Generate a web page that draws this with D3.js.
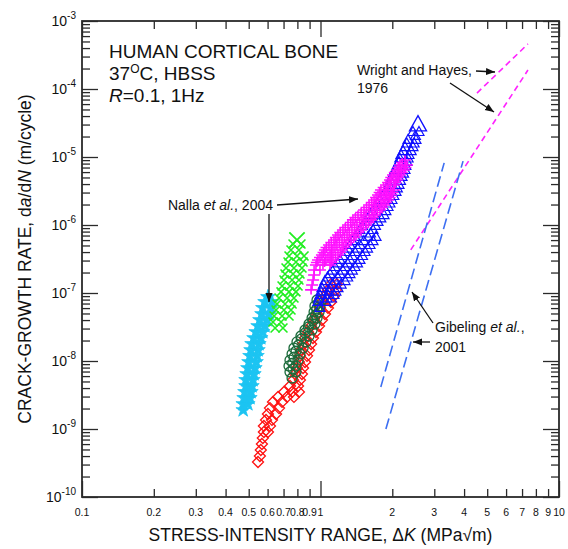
<!DOCTYPE html>
<html><head><meta charset="utf-8">
<script src="https://cdn.jsdelivr.net/npm/d3@7/dist/d3.min.js"></script>
<style>
body{margin:0;background:#fff;}
text{font-family:"Liberation Sans",Arial,Helvetica,sans-serif;fill:#111;}
</style></head><body>
<svg id="chart" width="568" height="549"></svg>
<script>
// ---------- axis data ----------
const xTickValues = [0.1,0.2,0.3,0.4,0.5,0.6,0.7,0.8,0.9,1,2,3,4,5,6,7,8,9,10];
const xTickLabels = ["0.1","0.2","0.3","0.4","0.5","0.6","0.7","0.8","0.9","1","2","3","4","5","6","7","8","9","10"];
const xMajorTicks = [0.1,1,10];
const yDecades = [1e-10,1e-9,1e-8,1e-7,1e-6,1e-5,1e-4,1e-3];
const yDecadeExponents = ["-10","-9","-8","-7","-6","-5","-4","-3"];

// ---------- series data: [ΔK (MPa√m), da/dN (m/cycle)] ----------
const cyanStars = [[0.474,1.90e-9],[0.474,2.33e-9],[0.496,2.33e-9],[0.478,2.86e-9],[0.506,2.86e-9],[0.482,3.51e-9],[0.511,3.51e-9],[0.487,4.29e-9],[0.516,4.29e-9],[0.487,5.26e-9],[0.521,5.26e-9],[0.492,6.44e-9],[0.526,6.44e-9],[0.496,7.89e-9],[0.531,7.89e-9],[0.501,9.67e-9],[0.537,9.67e-9],[0.506,1.19e-8],[0.542,1.19e-8],[0.511,1.45e-8],[0.547,1.45e-8],[0.516,1.78e-8],[0.552,1.78e-8],[0.526,2.18e-8],[0.562,2.18e-8],[0.537,2.67e-8],[0.573,2.67e-8],[0.547,3.27e-8],[0.585,3.27e-8],[0.557,4.01e-8],[0.597,4.01e-8],[0.568,4.91e-8],[0.608,4.91e-8],[0.573,6.03e-8],[0.620,6.03e-8],[0.585,7.38e-8],[0.626,7.38e-8],[0.602,8.74e-8]];
const greenCrosses = [[0.645,3.06e-8],[0.696,3.06e-8],[0.632,3.75e-8],[0.683,3.75e-8],[0.639,4.59e-8],[0.690,4.59e-8],[0.738,4.59e-8],[0.651,5.62e-8],[0.703,5.62e-8],[0.752,5.62e-8],[0.657,6.89e-8],[0.710,6.89e-8],[0.760,6.89e-8],[0.670,8.45e-8],[0.724,8.45e-8],[0.774,8.45e-8],[0.683,1.04e-7],[0.738,1.04e-7],[0.789,1.04e-7],[0.690,1.27e-7],[0.745,1.27e-7],[0.805,1.27e-7],[0.703,1.55e-7],[0.760,1.55e-7],[0.812,1.55e-7],[0.710,1.90e-7],[0.767,1.90e-7],[0.820,1.90e-7],[0.717,2.33e-7],[0.774,2.33e-7],[0.836,2.33e-7],[0.731,2.86e-7],[0.789,2.86e-7],[0.845,2.86e-7],[0.738,3.50e-7],[0.797,3.50e-7],[0.853,3.50e-7],[0.752,4.29e-7],[0.812,4.29e-7],[0.767,5.26e-7],[0.828,5.26e-7],[0.797,6.02e-7]];
const redDiamonds = [[0.547,3.27e-10],[0.557,4.01e-10],[0.562,4.91e-10],[0.568,6.02e-10],[0.573,7.38e-10],[0.579,9.04e-10],[0.602,9.04e-10],[0.579,1.11e-9],[0.614,1.11e-9],[0.591,1.36e-9],[0.626,1.36e-9],[0.602,1.66e-9],[0.651,1.66e-9],[0.614,2.03e-9],[0.670,2.03e-9],[0.632,2.50e-9],[0.690,2.50e-9],[0.664,2.96e-9],[0.724,2.96e-9],[0.774,2.96e-9],[0.703,3.51e-9],[0.760,3.51e-9],[0.812,3.51e-9],[0.745,4.29e-9],[0.805,4.29e-9],[0.767,5.26e-9],[0.820,5.26e-9],[0.782,6.44e-9],[0.836,6.44e-9],[0.797,7.89e-9],[0.845,7.89e-9],[0.812,9.67e-9],[0.861,9.67e-9],[0.820,1.19e-8],[0.878,1.19e-8],[0.828,1.45e-8],[0.895,1.45e-8],[0.845,1.78e-8],[0.913,1.78e-8],[0.861,2.18e-8],[0.930,2.18e-8],[0.886,2.67e-8],[0.957,2.67e-8],[0.913,3.27e-8],[0.986,3.27e-8],[0.940,4.01e-8],[1.014,4.01e-8],[0.967,4.91e-8],[1.044,4.91e-8],[0.995,6.03e-8],[1.075,6.03e-8],[1.014,7.38e-8],[1.107,7.38e-8],[1.044,9.04e-8],[1.139,9.04e-8],[1.075,1.11e-7],[1.161,1.11e-7],[1.107,1.35e-7],[1.172,1.35e-7]];
const darkGreenCircles = [[0.760,5.62e-9],[0.745,6.90e-9],[0.789,6.90e-9],[0.738,8.44e-9],[0.789,8.44e-9],[0.745,1.03e-8],[0.805,1.03e-8],[0.760,1.27e-8],[0.820,1.27e-8],[0.774,1.55e-8],[0.845,1.55e-8],[0.797,1.91e-8],[0.869,1.91e-8],[0.828,2.33e-8],[0.895,2.33e-8],[0.861,2.86e-8],[0.922,2.86e-8],[0.895,3.50e-8],[0.948,3.50e-8],[0.922,4.29e-8],[0.967,4.29e-8],[0.940,5.26e-8],[0.986,5.26e-8],[0.948,6.45e-8],[0.995,6.45e-8],[0.967,7.89e-8],[1.014,7.89e-8],
  [0.767,7.6e-9],[0.765,9.3e-9],[0.775,1.14e-8],[0.790,1.40e-8],[0.810,1.72e-8],[0.830,2.10e-8],[0.862,2.58e-8],[0.890,3.16e-8],[0.930,3.90e-8],[0.955,4.75e-8],[0.965,5.80e-8],[0.980,7.10e-8]];
const blueTriangles = [[0.995,6.03e-8],[0.976,7.38e-8],[1.054,7.38e-8],[0.995,9.35e-8],[1.075,9.35e-8],[1.139,9.35e-8],[1.014,1.18e-7],[1.096,1.18e-7],[1.184,1.18e-7],[1.044,1.50e-7],[1.150,1.50e-7],[1.267,1.50e-7],[1.096,1.90e-7],[1.207,1.90e-7],[1.329,1.90e-7],[1.150,2.41e-7],[1.267,2.41e-7],[1.395,2.41e-7],[1.207,3.06e-7],[1.329,3.06e-7],[1.464,3.06e-7],[1.267,4.01e-7],[1.395,4.01e-7],[1.537,4.01e-7],[1.329,5.08e-7],[1.464,5.08e-7],[1.613,5.08e-7],[1.395,6.67e-7],[1.582,6.67e-7],[1.709,6.67e-7],[1.464,8.44e-7],[1.660,8.44e-7],[1.537,1.11e-6],[1.742,1.11e-6],[1.613,1.40e-6],[1.846,1.40e-6],[1.692,1.84e-6],[1.919,1.84e-6],[1.776,2.33e-6],[1.994,2.33e-6],[1.864,3.06e-6],[2.073,3.06e-6],[1.937,3.88e-6],[2.134,3.88e-6],[1.994,5.09e-6],[2.197,5.09e-6],[2.053,6.44e-6],[2.261,6.44e-6],[2.134,8.45e-6],[2.305,8.45e-6],[2.175,1.07e-5],[2.350,1.07e-5],[2.261,1.40e-5],[2.442,1.40e-5],[2.328,1.78e-5],[2.514,1.78e-5],[2.442,2.33e-5],[2.588,2.33e-5],
  [2.50,2.04e-5],[2.30,1.58e-5],[2.47,1.58e-5],[2.22,1.22e-5],[2.40,1.22e-5],[2.15,9.5e-6],[2.33,9.5e-6],[2.09,7.4e-6],[2.28,7.4e-6],[2.02,5.7e-6],[2.23,5.7e-6],[1.965,4.45e-6],[2.165,4.45e-6],[1.90,3.45e-6],[2.10,3.45e-6],[1.82,2.67e-6],[2.03,2.67e-6],[1.73,2.07e-6],[1.955,2.07e-6],[1.65,1.6e-6],[1.88,1.6e-6],[1.575,1.25e-6],[1.79,1.25e-6],[1.50,9.7e-7],[1.70,9.7e-7],[1.43,7.5e-7],[1.62,7.5e-7],[1.36,5.8e-7],[1.52,5.8e-7],[1.66,5.8e-7],[1.30,4.5e-7],[1.43,4.5e-7],[1.575,4.5e-7],[1.24,3.5e-7],[1.36,3.5e-7],[1.50,3.5e-7],[1.18,2.72e-7],[1.30,2.72e-7],[1.43,2.72e-7],[1.12,2.14e-7],[1.24,2.14e-7],[1.36,2.14e-7],[1.07,1.69e-7],[1.18,1.69e-7],[1.30,1.69e-7],[1.03,1.33e-7],[1.12,1.33e-7],[1.22,1.33e-7],[1.005,1.05e-7],[1.085,1.05e-7],[1.16,1.05e-7],[0.985,8.3e-8],[1.065,8.3e-8],[1.11,8.3e-8],
  [2.563,2.96e-5]];
const magentaPluses = [[0.913,1.11e-7],[0.922,1.31e-7],[0.931,1.55e-7],[0.940,1.84e-7],[0.940,2.18e-7],[0.995,2.18e-7],[0.957,2.58e-7],[1.024,2.58e-7],[1.096,2.58e-7],[0.976,3.06e-7],[1.054,3.06e-7],[1.128,3.06e-7],[1.014,3.62e-7],[1.096,3.62e-7],[1.184,3.62e-7],[1.044,4.29e-7],[1.128,4.29e-7],[1.231,4.29e-7],[1.085,5.08e-7],[1.172,5.08e-7],[1.279,5.08e-7],[1.139,6.02e-7],[1.231,6.02e-7],[1.342,6.02e-7],[1.184,7.13e-7],[1.292,7.13e-7],[1.409,7.13e-7],[1.242,8.44e-7],[1.355,8.44e-7],[1.478,8.44e-7],[1.304,1.0e-6],[1.422,1.0e-6],[1.552,1.0e-6],[1.368,1.19e-6],[1.493,1.19e-6],[1.629,1.19e-6],[1.436,1.40e-6],[1.552,1.40e-6],[1.692,1.40e-6],[1.522,1.66e-6],[1.644,1.66e-6],[1.776,1.66e-6],[1.598,1.97e-6],[1.709,1.97e-6],[1.846,1.97e-6],[1.677,2.33e-6],[1.793,2.33e-6],[1.919,2.33e-6],[1.742,2.76e-6],[1.864,2.76e-6],[1.975,2.76e-6],[1.793,3.27e-6],[1.919,3.27e-6],[2.033,3.27e-6],[1.882,3.88e-6],[2.033,3.88e-6],[1.956,4.59e-6],[2.093,4.59e-6],[2.014,5.44e-6],[2.154,5.44e-6],[2.093,6.44e-6],[2.239,6.44e-6],[2.154,7.62e-6],[2.305,7.62e-6],[2.261,9.04e-6],
  [2.20,8.3e-6],[2.12,7.0e-6],[2.27,7.0e-6],[2.05,5.92e-6],[2.19,5.92e-6],[1.98,5.0e-6],[2.12,5.0e-6],[1.92,4.22e-6],[2.06,4.22e-6],[1.84,3.56e-6],[1.97,3.56e-6],[1.77,3.0e-6],[1.89,3.0e-6],[2.00,3.0e-6],[1.71,2.54e-6],[1.83,2.54e-6],[1.95,2.54e-6],[1.64,2.14e-6],[1.75,2.14e-6],[1.88,2.14e-6],[1.56,1.81e-6],[1.68,1.81e-6],[1.81,1.81e-6],[1.48,1.53e-6],[1.60,1.53e-6],[1.73,1.53e-6],[1.40,1.29e-6],[1.52,1.29e-6],[1.66,1.29e-6],[1.34,1.09e-6],[1.46,1.09e-6],[1.59,1.09e-6],[1.27,9.2e-7],[1.39,9.2e-7],[1.51,9.2e-7],[1.21,7.76e-7],[1.32,7.76e-7],[1.44,7.76e-7],[1.16,6.55e-7],[1.26,6.55e-7],[1.38,6.55e-7],[1.11,5.53e-7],[1.20,5.53e-7],[1.31,5.53e-7],[1.06,4.67e-7],[1.15,4.67e-7],[1.25,4.67e-7],[1.03,3.94e-7],[1.11,3.94e-7],[1.21,3.94e-7],[0.995,3.33e-7],[1.075,3.33e-7],[1.155,3.33e-7],[0.966,2.81e-7],[1.04,2.81e-7],[1.11,2.81e-7]];

// literature fits (dashed lines): [ΔK, da/dN] end points
const wrightHayesUpper = [[4.53,8.7e-5],[7.41,4.6e-4]];
const wrightHayesLower = [[2.39,4.3e-7],[7.41,1.9e-4]];
const gibelingLeft = [[1.79,4.15e-9],[3.30,8.2e-6]];
const gibelingRight = [[1.88,1.0e-9],[3.96,8.7e-6]];

// ---------- chart ----------
const svg = d3.select("#chart");
const L = 82, R = 559, T = 21, B = 497;
const x = d3.scaleLog().domain([0.1,10]).range([L,R]);
const y = d3.scaleLog().domain([1e-10,1e-3]).range([B,T]);

const yMinor = [];
yDecades.slice(0,-1).forEach(d => { for (let k=2;k<=9;k++) yMinor.push(d*k); });
const xMinor = xTickValues.filter(v => !xMajorTicks.includes(v));

const axisColor = "#2a2a2a";
function styleAxis(g){ g.select(".domain").remove(); g.selectAll("line").attr("stroke",axisColor).attr("stroke-width",1.3); }

svg.append("g").attr("transform",`translate(0,${B})`)
  .call(d3.axisBottom(x).tickValues(xMinor).tickSize(-8).tickFormat("")).call(styleAxis);
svg.append("g").attr("transform",`translate(0,${B})`)
  .call(d3.axisBottom(x).tickValues(xMajorTicks).tickSize(-16).tickFormat("")).call(styleAxis);
svg.append("g").attr("transform",`translate(0,${T})`)
  .call(d3.axisTop(x).tickValues(xMinor).tickSize(-8).tickFormat("")).call(styleAxis);
svg.append("g").attr("transform",`translate(0,${T})`)
  .call(d3.axisTop(x).tickValues(xMajorTicks).tickSize(-16).tickFormat("")).call(styleAxis);
svg.append("g").attr("transform",`translate(${L},0)`)
  .call(d3.axisLeft(y).tickValues(yMinor).tickSize(-8).tickFormat("")).call(styleAxis);
svg.append("g").attr("transform",`translate(${L},0)`)
  .call(d3.axisLeft(y).tickValues(yDecades).tickSize(-16).tickFormat("")).call(styleAxis);
svg.append("g").attr("transform",`translate(${R},0)`)
  .call(d3.axisRight(y).tickValues(yMinor).tickSize(-8).tickFormat("")).call(styleAxis);
svg.append("g").attr("transform",`translate(${R},0)`)
  .call(d3.axisRight(y).tickValues(yDecades).tickSize(-16).tickFormat("")).call(styleAxis);

svg.append("rect").attr("x",L).attr("y",T).attr("width",R-L).attr("height",B-T)
  .attr("fill","none").attr("stroke",axisColor).attr("stroke-width",1.8);

// x tick labels
svg.append("g").selectAll("text").data(xTickValues).join("text")
  .attr("x",d=>x(d)).attr("y",B+19).attr("text-anchor","middle")
  .attr("font-size",10.5).text((d,i)=>xTickLabels[i]);

// y tick labels
const yl = svg.append("g").selectAll("text").data(yDecades).join("text")
  .attr("x",L-6).attr("y",d=>y(d)+5).attr("text-anchor","end").attr("font-size",14);
yl.append("tspan").text("10");
yl.append("tspan").attr("font-size",10).attr("dy",-7).text((d,i)=>yDecadeExponents[i]);

// axis titles
const xt = svg.append("text").attr("x",(L+R)/2).attr("y",541).attr("text-anchor","middle").attr("font-size",17.5);
xt.append("tspan").text("STRESS-INTENSITY RANGE, Δ");
xt.append("tspan").attr("font-style","italic").text("K");
xt.append("tspan").text(" (MPa√m)");

const yt = svg.append("text").attr("transform",`translate(31,${(T+B)/2}) rotate(-90)`).attr("text-anchor","middle").attr("font-size",17.5);
yt.append("tspan").text("CRACK-GROWTH RATE, d");
yt.append("tspan").attr("font-style","italic").text("a");
yt.append("tspan").text("/d");
yt.append("tspan").attr("font-style","italic").text("N");
yt.append("tspan").text(" (m/cycle)");

svg.append("clipPath").attr("id","clip").append("rect").attr("x",L).attr("y",T).attr("width",R-L).attr("height",B-T);
const plot = svg.append("g").attr("clip-path","url(#clip)");

const line = d3.line().x(d=>x(d[0])).y(d=>y(d[1]));
[[wrightHayesUpper,"#ff22ff","6,4"],[wrightHayesLower,"#ff22ff","6,4"],
 [gibelingLeft,"#3d6ff2","11,5"],[gibelingRight,"#3d6ff2","11,5"]].forEach(([d,c,da])=>{
  plot.append("path").attr("d",line(d)).attr("fill","none").attr("stroke",c).attr("stroke-dasharray",da).attr("stroke-width",1.6);
});

const tri = "M0,-5.5L5,3.5L-5,3.5Z";
const diamond = "M0,-5.5L5.5,0L0,5.5L-5.5,0Z";
const xMark = "M-4.5,-4.5L4.5,4.5M-4.5,4.5L4.5,-4.5";
const plus = "M-6,0H6M0,-4.5V4.5";
const star = d3.symbol().type(d3.symbolStar).size(65)();

function draw(data, path, color, filled, sw, bigLast){
  plot.append("g").selectAll("path").data(data).join("path")
    .attr("d",path)
    .attr("transform",(d,i)=>`translate(${x(d[0])},${y(d[1])})` + (bigLast && i===data.length-1 ? " scale(1.7)" : ""))
    .attr("fill",filled?color:"none").attr("stroke",color).attr("stroke-width",(d,i)=> bigLast && i===data.length-1 ? sw/1.5 : sw);
}
draw(redDiamonds, diamond, "#ff1010", false, 1.3, false);
plot.append("g").selectAll("circle").data(darkGreenCircles).join("circle")
  .attr("cx",d=>x(d[0])).attr("cy",d=>y(d[1])).attr("r",5)
  .attr("fill","none").attr("stroke","#1b6a3a").attr("stroke-width",1.3);
draw(blueTriangles, tri, "#1010ff", false, 1.2, true);
draw(magentaPluses, plus, "#ff10ff", false, 1.6, false);
draw(cyanStars, star, "#1cc4f2", true, 0.8, false);
draw(greenCrosses, xMark, "#22ee22", false, 1.6, true);

// ---------- annotations ----------
const defs = svg.append("defs");
defs.append("marker").attr("id","ah").attr("viewBox","0 0 10 10").attr("refX",10).attr("refY",5)
  .attr("markerWidth",9).attr("markerHeight",9).attr("markerUnits","userSpaceOnUse").attr("orient","auto")
  .append("path").attr("d","M0,1L10,5L0,9Z").attr("fill","#111");
function arrow(x1,y1,x2,y2){
  svg.append("line").attr("x1",x1).attr("y1",y1).attr("x2",x2).attr("y2",y2)
    .attr("stroke","#111").attr("stroke-width",1.3).attr("marker-end","url(#ah)");
}

const info = svg.append("g").attr("font-size",19);
info.append("text").attr("x",109).attr("y",58).text("HUMAN CORTICAL BONE");
const l2 = info.append("text").attr("x",109).attr("y",80);
l2.append("tspan").text("37");
l2.append("tspan").attr("font-size",12).attr("dy",-7).text("O");
l2.append("tspan").attr("dy",7).text("C, HBSS");
const l3 = info.append("text").attr("x",109).attr("y",102);
l3.append("tspan").attr("font-style","italic").text("R");
l3.append("tspan").text("=0.1, 1Hz");

svg.append("text").attr("x",357).attr("y",75).attr("font-size",14).text("Wright and Hayes,");
svg.append("text").attr("x",357).attr("y",93).attr("font-size",14).text("1976");
arrow(476,71,495,72);
arrow(450,83,494,112);

const nt = svg.append("text").attr("x",273).attr("y",210).attr("text-anchor","end").attr("font-size",14);
nt.append("tspan").text("Nalla ");
nt.append("tspan").attr("font-style","italic").text("et al.");
nt.append("tspan").text(", 2004");
arrow(277,205,358,199);
arrow(269,214,269,302);

const gt = svg.append("text").attr("x",435).attr("y",332).attr("font-size",14);
gt.append("tspan").text("Gibeling ");
gt.append("tspan").attr("font-style","italic").text("et al.");
gt.append("tspan").text(",");
svg.append("text").attr("x",435).attr("y",352).attr("font-size",14).text("2001");
arrow(433,323,412,292);
arrow(430,342,413,342);
</script>
</body></html>
